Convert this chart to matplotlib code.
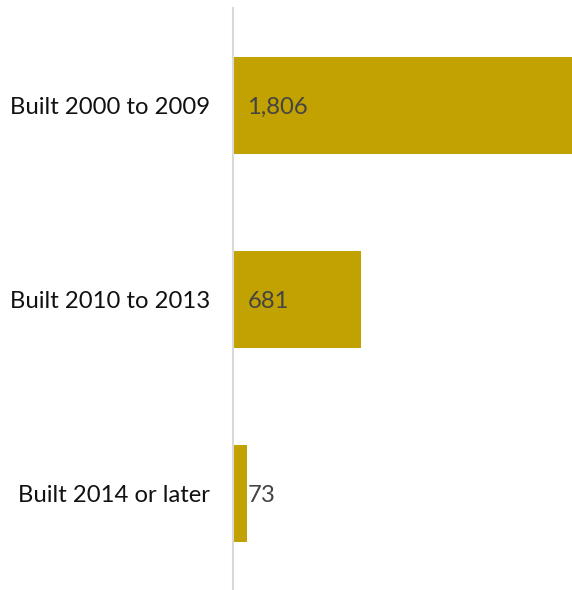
import matplotlib

matplotlib.use("Agg")
import matplotlib.pyplot as plt
from matplotlib.transforms import offset_copy

categories = ["Built 2000 to 2009", "Built 2010 to 2013", "Built 2014 or later"]
values = [1806, 681, 73]

BAR_COLOR = "#c2a200"
AXIS_COLOR = "#d9d9d9"

plt.rcParams["font.family"] = ["Lato", "DejaVu Sans"]

fig = plt.figure(figsize=(5.72, 5.90), dpi=100)
ax = fig.add_axes([233 / 572, 0, 1 - 233 / 572, 1 - 8 / 590])

pos = list(range(len(categories)))
ax.barh(pos, values, height=0.5, color=BAR_COLOR)
ax.set_ylim(len(categories) - 0.5, -0.5)
ax.set_xlim(0, max(values))

ax.set_yticks(pos)
ax.set_yticklabels(categories, fontsize=17.2, color="#111111")
ax.tick_params(axis="y", length=0, pad=16.5)
ax.set_xticks([])

for side in ["top", "right", "bottom"]:
    ax.spines[side].set_visible(False)
ax.spines["left"].set_color(AXIS_COLOR)
ax.spines["left"].set_linewidth(1.5)

# value labels sit just inside the axis line
label_tr = offset_copy(ax.transData, fig=fig, x=14.5, y=-2, units="dots")
for p, v in zip(pos, values):
    ax.text(0, p, f"{v:,}", transform=label_tr, ha="left", va="center",
            fontsize=17.2, color="#444444")

fig.savefig("out.png", dpi=100)
